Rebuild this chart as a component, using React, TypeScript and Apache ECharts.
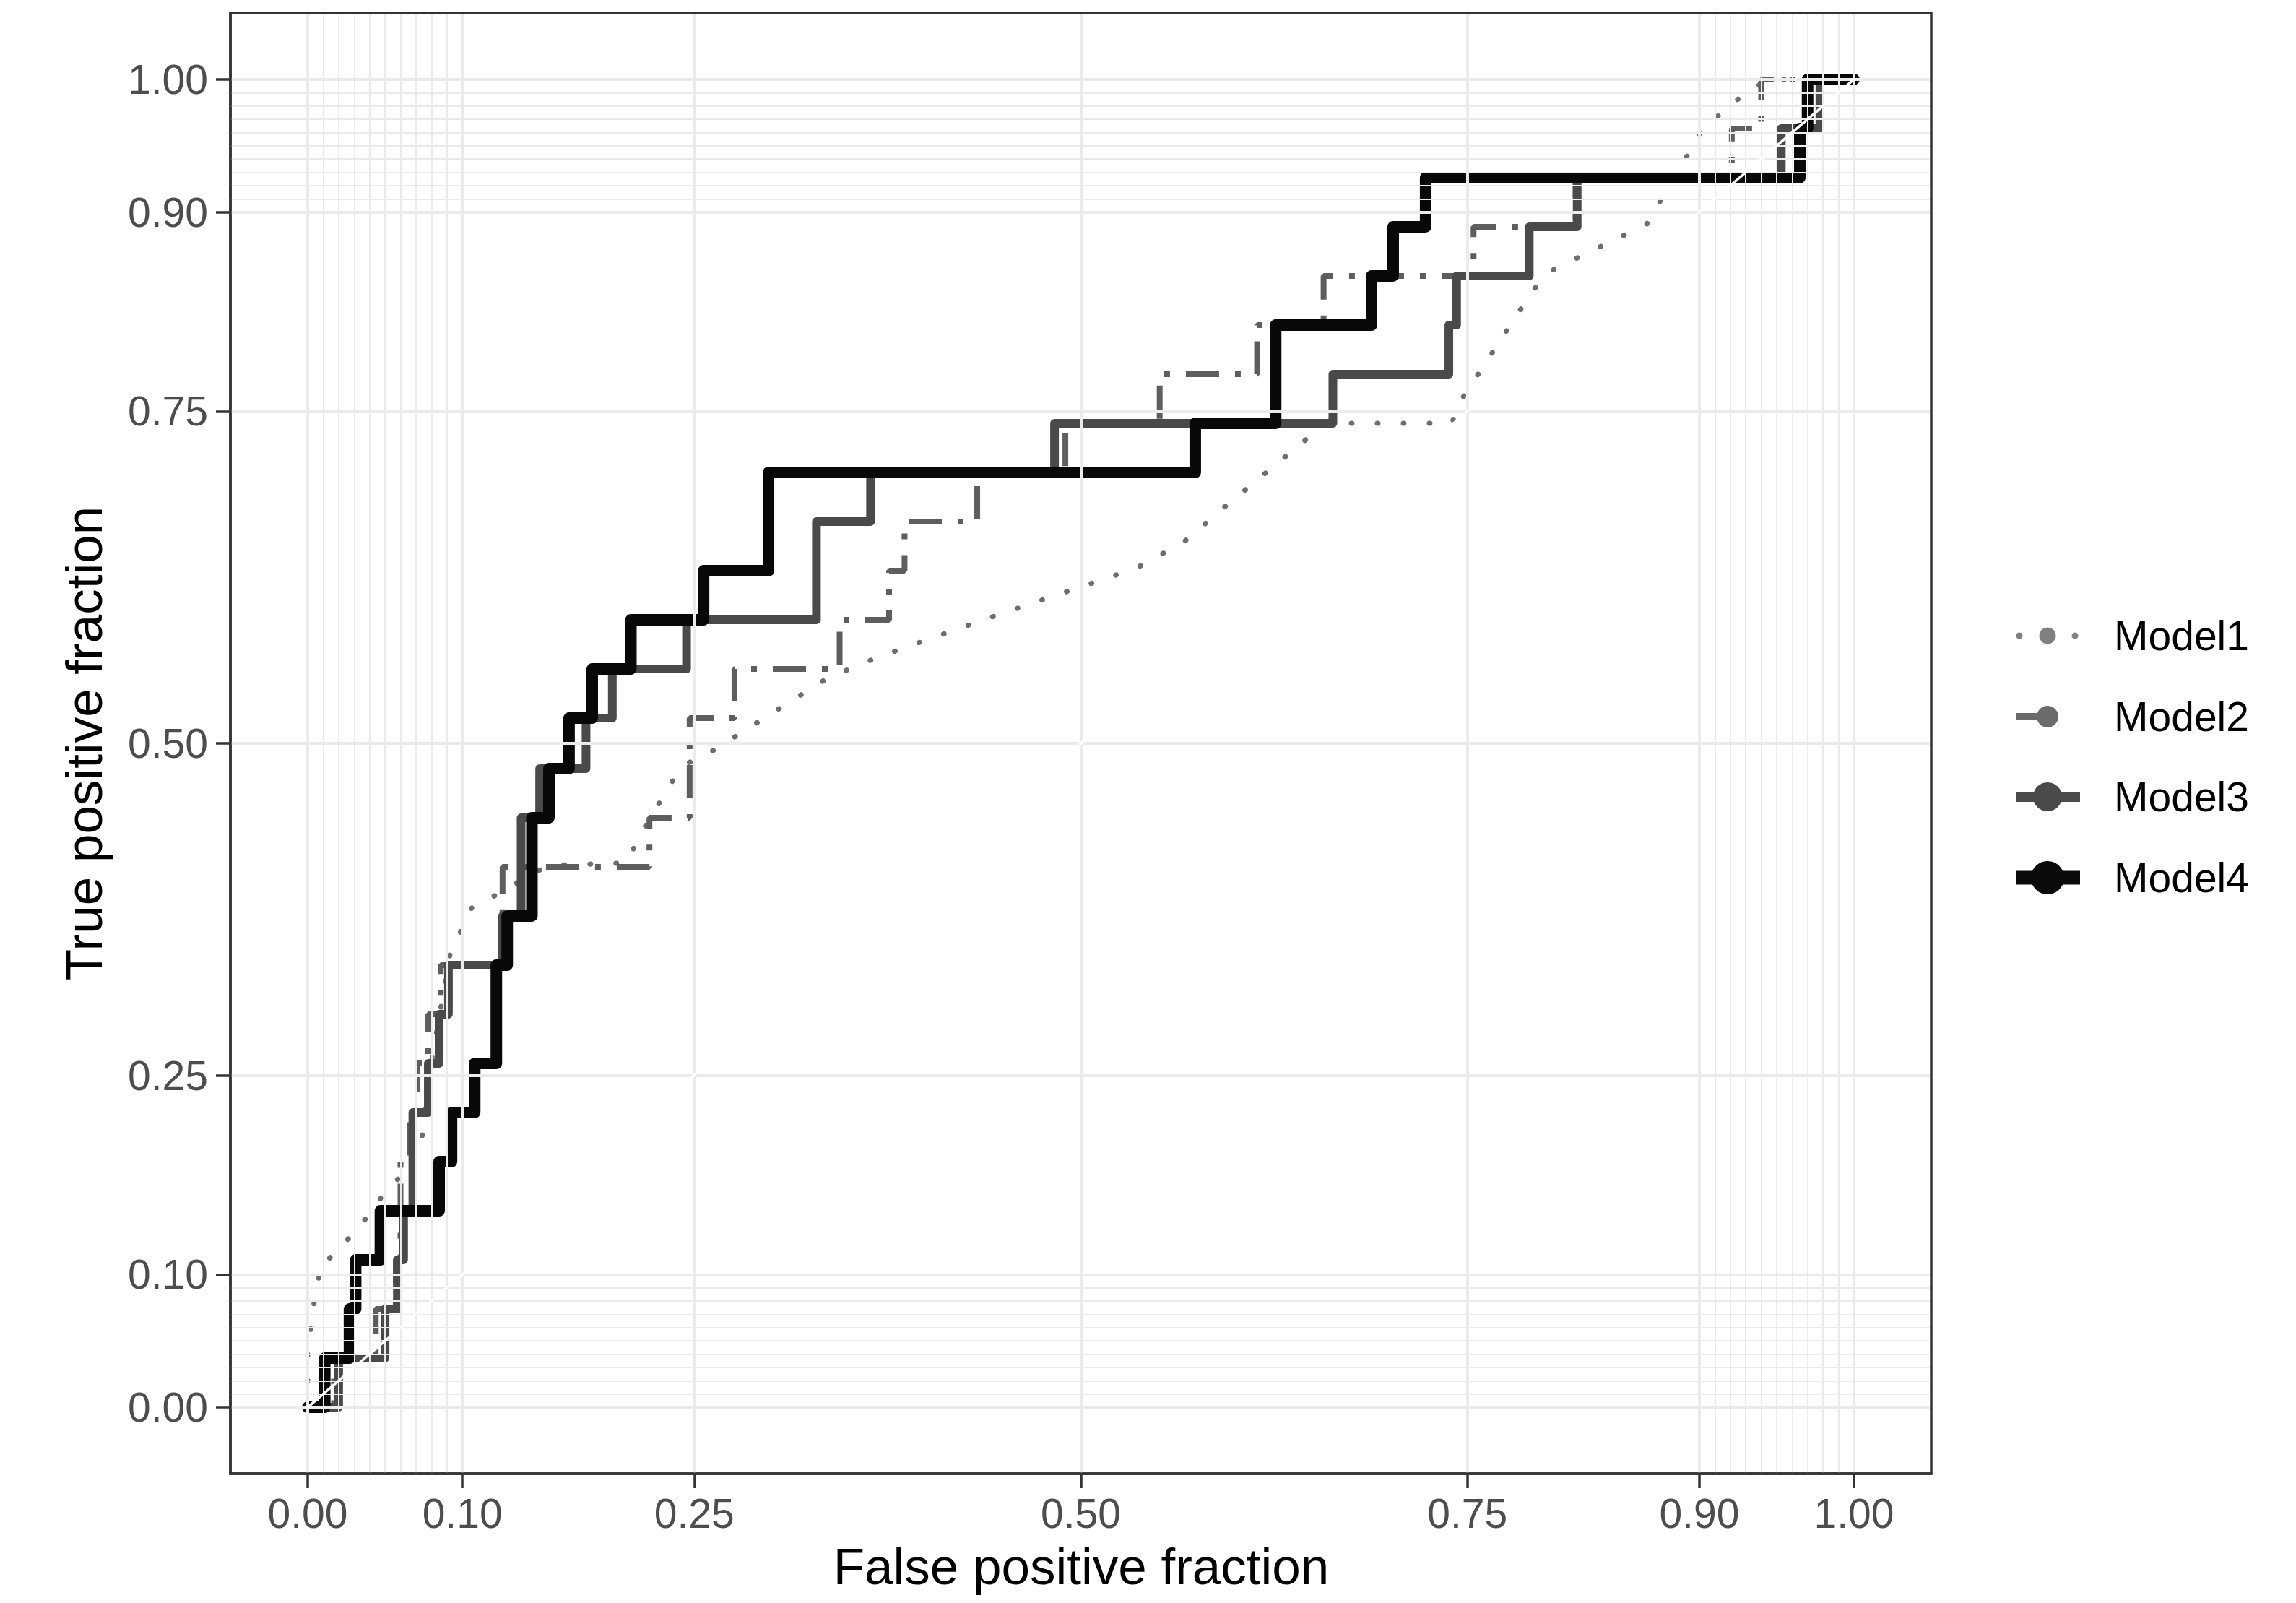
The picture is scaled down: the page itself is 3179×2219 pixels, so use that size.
import React, { useEffect, useRef } from "react";
import * as echarts from "echarts";

// ---- axis breaks ----
const majorBreaks = [0, 0.1, 0.25, 0.5, 0.75, 0.9, 1];
const minorBreaks = [
  0.01, 0.02, 0.03, 0.04, 0.05, 0.06, 0.07, 0.08, 0.09,
  0.91, 0.92, 0.93, 0.94, 0.95, 0.96, 0.97, 0.98, 0.99,
];

const seriesNames = ["Model1", "Model2", "Model3", "Model4"];

// ---- Model1 (dotted, path vertices) ----
const model1Fpr = [
  0, 0, 0.005, 0.01, 0.013, 0.033, 0.052, 0.065, 0.073, 0.08,
  0.092, 0.106, 0.122, 0.155, 0.206, 0.217, 0.235, 0.244, 0.26, 0.336,
  0.369, 0.437, 0.536, 0.567, 0.593, 0.65, 0.66, 0.74, 0.744, 0.793,
  0.806, 0.866, 0.875, 0.894, 0.902, 0.917, 0.93, 0.945, 1,
];
const model1Tpr = [
  0, 0.04, 0.087, 0.111, 0.111, 0.135, 0.165, 0.179, 0.195, 0.26,
  0.341, 0.376, 0.386, 0.408, 0.41, 0.435, 0.47, 0.484, 0.493, 0.549,
  0.565, 0.593, 0.632, 0.652, 0.678, 0.733, 0.741, 0.741, 0.755, 0.842,
  0.857, 0.891, 0.909, 0.946, 0.963, 0.977, 0.99, 1, 1,
];

// ---- Model2 (dashed, step corners) ----
const model2Fpr = [
  0, 0.017, 0.044, 0.057, 0.06, 0.066, 0.071, 0.078, 0.086, 0.126,
  0.221, 0.247, 0.276, 0.344, 0.376, 0.386, 0.433, 0.49, 0.551, 0.614,
  0.657, 0.754, 0.82, 0.921, 0.94, 1,
];
const model2Tpr = [
  0, 0.037, 0.074, 0.111, 0.185, 0.222, 0.259, 0.296, 0.333, 0.407,
  0.444, 0.519, 0.556, 0.593, 0.63, 0.667, 0.704, 0.741, 0.778, 0.815,
  0.852, 0.889, 0.926, 0.963, 1, 1,
];

// ---- Model3 (solid, step corners) ----
const model3Fpr = [
  0, 0.02, 0.05, 0.058, 0.062, 0.068, 0.078, 0.085, 0.091, 0.126,
  0.138, 0.15, 0.18, 0.197, 0.245, 0.329, 0.364, 0.483, 0.663, 0.738,
  0.743, 0.79, 0.821, 0.953, 0.978, 1,
];
const model3Tpr = [
  0, 0.037, 0.074, 0.111, 0.148, 0.222, 0.259, 0.296, 0.333, 0.37,
  0.444, 0.481, 0.519, 0.556, 0.593, 0.667, 0.704, 0.741, 0.778, 0.815,
  0.852, 0.889, 0.926, 0.963, 1, 1,
];

// ---- Model4 (thick solid, step corners) ----
const model4Fpr = [
  0, 0.011, 0.027, 0.031, 0.047, 0.085, 0.093, 0.108, 0.122, 0.129,
  0.145, 0.156, 0.169, 0.184, 0.209, 0.256, 0.298, 0.574, 0.626, 0.688,
  0.702, 0.723, 0.965, 0.97, 1,
];
const model4Tpr = [
  0, 0.037, 0.074, 0.111, 0.148, 0.185, 0.222, 0.259, 0.333, 0.37,
  0.444, 0.481, 0.519, 0.556, 0.593, 0.63, 0.704, 0.741, 0.815, 0.852,
  0.889, 0.926, 0.963, 1, 1,
];

const diagonal = [
  [0, 0],
  [1, 1],
];

const zip = (xs: number[], ys: number[]) => xs.map((x, i) => [x, ys[i]]);

export default function App() {
  const ref = useRef<HTMLDivElement>(null);

  useEffect(() => {
    if (!ref.current) return;
    const chart = echarts.init(ref.current, null, { renderer: "svg" });
    const font = "'Liberation Sans', Arial, Helvetica, sans-serif";

    const gridLeft = 319;
    const gridTop = 18;
    const gridW = 2355;
    const gridH = 2022;

    const gridColor = "#ebebeb";
    const gridLines: any[] = [
      ...minorBreaks.map((v) => ({ xAxis: v, lineStyle: { width: 2, color: gridColor, type: "solid" } })),
      ...minorBreaks.map((v) => ({ yAxis: v, lineStyle: { width: 2, color: gridColor, type: "solid" } })),
      ...majorBreaks.map((v) => ({ xAxis: v, lineStyle: { width: 4, color: gridColor, type: "solid" } })),
      ...majorBreaks.map((v) => ({ yAxis: v, lineStyle: { width: 4, color: gridColor, type: "solid" } })),
    ];

    const axisCommon = (isX: boolean) => ({
      type: "value",
      min: -0.05,
      max: 1.05,
      splitLine: { show: false },
      axisLine: { show: true, onZero: false, lineStyle: { color: "#333333", width: 3.5 } },
      axisTick: {
        show: true,
        customValues: majorBreaks,
        length: 20,
        lineStyle: { color: "#333333", width: 3.5 },
      },
      axisLabel: {
        show: true,
        customValues: majorBreaks,
        formatter: (v: number) => v.toFixed(2),
        fontSize: 57,
        fontFamily: font,
        color: "#4d4d4d",
        margin: isX ? 26 : 31,
      },
    });

    const legendYs = [880, 992, 1103, 1215];
    const legendColors = ["#808080", "#6b6b6b", "#4a4a4a", "#0a0a0a"];
    const legendGraphics: any[] = [];
    // Model1 key: dots
    legendGraphics.push(
      { type: "circle", shape: { cx: 2796, cy: legendYs[0], r: 4.5 }, style: { fill: legendColors[0] } },
      { type: "circle", shape: { cx: 2835, cy: legendYs[0], r: 11.5 }, style: { fill: legendColors[0] } },
      { type: "circle", shape: { cx: 2873, cy: legendYs[0], r: 4.5 }, style: { fill: legendColors[0] } }
    );
    // Model2 key
    legendGraphics.push(
      { type: "line", shape: { x1: 2792, y1: legendYs[1], x2: 2836, y2: legendYs[1] }, style: { stroke: legendColors[1], lineWidth: 10 } },
      { type: "circle", shape: { cx: 2835, cy: legendYs[1], r: 15 }, style: { fill: legendColors[1] } }
    );
    // Model3 key
    legendGraphics.push(
      { type: "line", shape: { x1: 2792, y1: legendYs[2], x2: 2880, y2: legendYs[2] }, style: { stroke: legendColors[2], lineWidth: 14 } },
      { type: "circle", shape: { cx: 2835, cy: legendYs[2], r: 20 }, style: { fill: legendColors[2] } }
    );
    // Model4 key
    legendGraphics.push(
      { type: "line", shape: { x1: 2792, y1: legendYs[3], x2: 2880, y2: legendYs[3] }, style: { stroke: legendColors[3], lineWidth: 19 } },
      { type: "circle", shape: { cx: 2835, cy: legendYs[3], r: 23 }, style: { fill: legendColors[3] } }
    );
    seriesNames.forEach((name, i) => {
      legendGraphics.push({
        type: "text",
        x: 2927,
        y: legendYs[i],
        style: {
          text: name,
          fontSize: 57,
          fontFamily: font,
          fill: "#000000",
          align: "left",
          verticalAlign: "middle",
        },
      });
    });

    const option: any = {
      animation: false,
      backgroundColor: "#ffffff",
      grid: {
        left: gridLeft,
        top: gridTop,
        width: gridW,
        height: gridH,
        show: true,
        backgroundColor: "#ffffff",
        borderWidth: 0,
      },
      xAxis: axisCommon(true),
      yAxis: axisCommon(false),
      series: [
        {
          name: "grid",
          type: "line",
          data: [],
          silent: true,
          z: 1,
          markLine: {
            silent: true,
            symbol: ["none", "none"],
            label: { show: false },
            emphasis: { disabled: true },
            animation: false,
            data: gridLines,
          },
        },
        {
          name: seriesNames[0],
          type: "line",
          data: zip(model1Fpr, model1Tpr),
          symbol: "none",
          showSymbol: false,
          silent: true,
          z: 3,
          lineStyle: { color: "#6e6e6e", width: 7, type: [1, 35], cap: "round" },
        },
        {
          name: seriesNames[1],
          type: "line",
          data: zip(model2Fpr, model2Tpr),
          step: "end",
          symbol: "none",
          showSymbol: false,
          silent: true,
          z: 3,
          lineStyle: { color: "#5e5e5e", width: 8, type: [46, 22, 8, 22], cap: "butt" },
        },
        {
          name: seriesNames[2],
          type: "line",
          data: zip(model3Fpr, model3Tpr),
          step: "end",
          symbol: "none",
          showSymbol: false,
          silent: true,
          z: 3,
          lineStyle: { color: "#4a4a4a", width: 12, type: "solid", join: "round", cap: "round" },
        },
        {
          name: seriesNames[3],
          type: "line",
          data: zip(model4Fpr, model4Tpr),
          step: "end",
          symbol: "none",
          showSymbol: false,
          silent: true,
          z: 3,
          lineStyle: { color: "#080808", width: 16, type: "solid", join: "round", cap: "round" },
        },
        {
          name: "diagonal",
          type: "line",
          data: diagonal,
          symbol: "none",
          showSymbol: false,
          silent: true,
          z: 5,
          lineStyle: { color: "#ffffff", width: 3.5 },
        },
      ],
      graphic: [
        {
          type: "rect",
          z: 100,
          silent: true,
          shape: { x: gridLeft, y: gridTop, width: gridW, height: gridH },
          style: { fill: "none", stroke: "#333333", lineWidth: 3.5 },
        },
        {
          type: "text",
          x: 1497,
          y: 2168,
          style: {
            text: "False positive fraction",
            fontSize: 71,
            fontFamily: font,
            fill: "#000000",
            align: "center",
            verticalAlign: "middle",
          },
        },
        {
          type: "text",
          x: 116,
          y: 1029,
          rotation: Math.PI / 2,
          style: {
            text: "True positive fraction",
            fontSize: 71,
            fontFamily: font,
            fill: "#000000",
            align: "center",
            verticalAlign: "middle",
          },
        },
        ...legendGraphics,
      ],
    };

    chart.setOption(option);
    return () => {
      chart.dispose();
    };
  }, []);

  return (
    <div
      ref={ref}
      style={{ position: "absolute", left: 0, top: 0, width: 3179, height: 2219 }}
    />
  );
}
